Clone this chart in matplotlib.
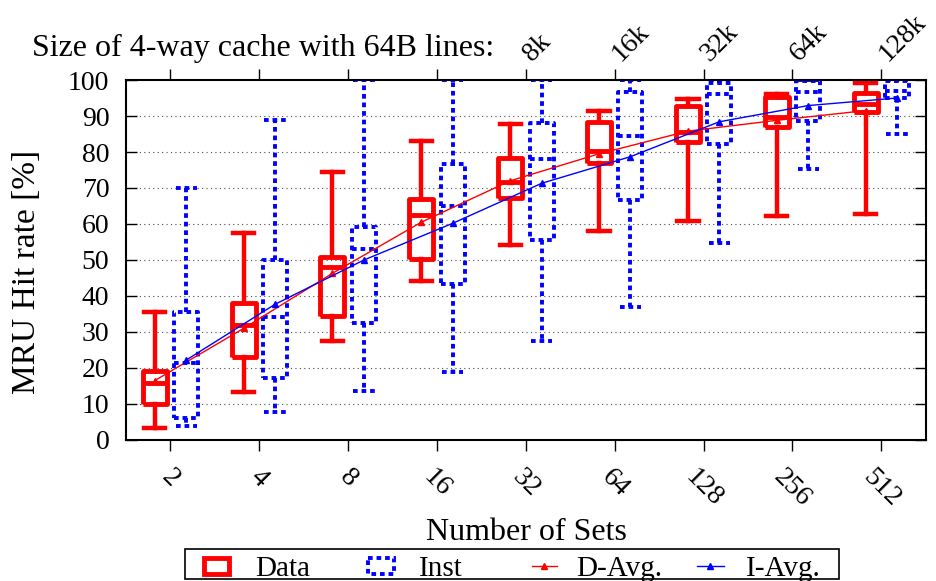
import numpy as np
import matplotlib
matplotlib.use('Agg')
import matplotlib.pyplot as plt
from matplotlib.patches import Rectangle
import matplotlib.transforms as mtransforms

plt.rcParams['font.family'] = ['Liberation Serif', 'DejaVu Serif']
plt.rcParams['font.size'] = 20

sets = ['2', '4', '8', '16', '32', '64', '128', '256', '512']
cache_sizes = {'32': '8k', '64': '16k', '128': '32k', '256': '64k', '512': '128k'}

# data cache hit rates per set count: whisker low, q1, median, q3, whisker high
d_min = [3.4, 13.2, 27.5, 44.2, 54.2, 58.1, 60.8, 62.2, 62.8]
d_q1  = [9.9, 23.1, 34.4, 50.2, 67.1, 77.0, 82.9, 87.0, 91.2]
d_med = [15.7, 31.9, 48.0, 62.5, 71.6, 80.3, 85.6, 89.6, 93.2]
d_q3  = [19.3, 38.0, 50.9, 66.9, 78.4, 88.4, 92.8, 95.2, 96.3]
d_max = [35.6, 57.4, 74.5, 83.1, 87.8, 91.4, 94.7, 96.1, 99.3]
d_avg = [16.5, 31.0, 46.3, 60.5, 72.0, 79.5, 85.8, 88.8, 91.5]

# instruction cache hit rates
i_min = [3.9, 7.9, 13.7, 19.0, 27.5, 36.9, 54.6, 75.3, 85.0]
i_q1  = [6.0, 17.1, 32.4, 43.3, 55.6, 66.7, 82.2, 88.6, 94.9]
i_med = [21.3, 34.3, 53.0, 65.1, 78.1, 84.4, 96.1, 96.6, 96.9]
i_q3  = [35.6, 50.0, 59.3, 76.7, 88.0, 96.6, 99.1, 99.8, 99.8]
i_max = [70.1, 88.9, 100.0, 100.0, 100.0, 100.0, 100.0, 100.0, 100.0]
i_avg = [22.2, 37.7, 50.0, 60.2, 71.3, 78.7, 88.4, 92.9, 95.0]

x = np.arange(len(sets))
off = 0.177


def stats(lo, q1, med, q3, hi):
    return [dict(whislo=a, q1=b, med=c, q3=d, whishi=e, fliers=[])
            for a, b, c, d, e in zip(lo, q1, med, q3, hi)]


fig = plt.figure(figsize=(9.37, 5.81), dpi=100)
ax = fig.add_axes([0.1345, 0.2427, 0.8535, 0.6196])

red = dict(color='red', lw=3.5, solid_capstyle='butt')
ax.bxp(stats(d_min, d_q1, d_med, d_q3, d_max), positions=x - off, widths=0.27,
       capwidths=0.24, showfliers=False, manage_ticks=False,
       boxprops=red, whiskerprops=dict(color='red', lw=3.2),
       capprops=dict(color='red', lw=3.2), medianprops=red)

dot = (0, (1.2, 1.0))
blue = dict(color='blue', lw=2.8, linestyle=dot, dash_capstyle='butt')
ax.bxp(stats(i_min, i_q1, i_med, i_q3, i_max), positions=x + off, widths=0.27,
       capwidths=0.24, showfliers=False, manage_ticks=False,
       boxprops=blue, whiskerprops=blue, capprops=blue, medianprops=blue)

ax.plot(x - off, d_avg, color='red', lw=1.0, marker='^', ms=4, zorder=5)
ax.plot(x + off, i_avg, color='blue', lw=1.0, marker='^', ms=4, zorder=5)

ax.set_xlim(-0.5, 8.5)
ax.set_ylim(0, 100)
ax.set_yticks(np.arange(0, 101, 10))
ax.set_xticks(x)
shift = mtransforms.ScaledTranslation(6 / 100, 0, fig.dpi_scale_trans)
for lab in ax.set_xticklabels(sets, rotation=-45, ha='center', va='top'):
    lab.set_transform(lab.get_transform() + shift)
ax.tick_params(axis='y', direction='in', length=8, width=1, right=True, pad=12)
ax.tick_params(axis='x', direction='out', length=8, width=1, top=True, pad=10)
for s in ax.spines.values():
    s.set_linewidth(1.5)
for yv in range(10, 100, 10):
    ax.axhline(yv, color='0.3', lw=0.8, linestyle=(0, (1, 3)), zorder=0)

fig.text(27 / 937, 1 - 272 / 581, 'MRU Hit rate [%]', rotation=90,
         ha='center', va='center', fontsize=24)
fig.text(526 / 937, 1 - 540 / 581, 'Number of Sets', ha='center',
         va='baseline', fontsize=23)

# cache size labels above the top axis
trans = mtransforms.blended_transform_factory(ax.transData, ax.transAxes)
for i, s in enumerate(sets):
    if s in cache_sizes:
        ax.text(i + 0.07, 1.05, cache_sizes[s], transform=trans, rotation=45,
                rotation_mode='anchor', ha='left', va='baseline')
fig.text(32 / 937, 1 - 56 / 581, 'Size of 4-way cache with 64B lines:',
         ha='left', va='baseline', fontsize=23)

# key box along the bottom, laid out in pixel units
lg = fig.add_axes([0, 0, 1, 1], facecolor='none')
lg.set_xlim(0, 937)
lg.set_ylim(581, 0)
lg.axis('off')
lg.add_patch(Rectangle((185, 549), 654, 30, fill=False, ec='black', lw=1.2))
lg.add_patch(Rectangle((204, 558), 25, 16, fill=False, ec='red', lw=3.5))
lg.add_patch(Rectangle((368, 558), 26, 16, fill=False, ec='blue', lw=2.8,
                       linestyle=dot))
lg.plot([532, 557], [566, 566], color='red', lw=1.0)
lg.plot([544.5], [566], color='red', marker='^', ms=4)
lg.plot([697, 724], [566, 566], color='blue', lw=1.0)
lg.plot([710.5], [566], color='blue', marker='^', ms=4)
for tx, label in [(255, 'Data'), (419, 'Inst'), (576, 'D-Avg.'), (746, 'I-Avg.')]:
    lg.text(tx, 576, label, ha='left', va='baseline', fontsize=21)

fig.savefig('out.png', dpi=100)
